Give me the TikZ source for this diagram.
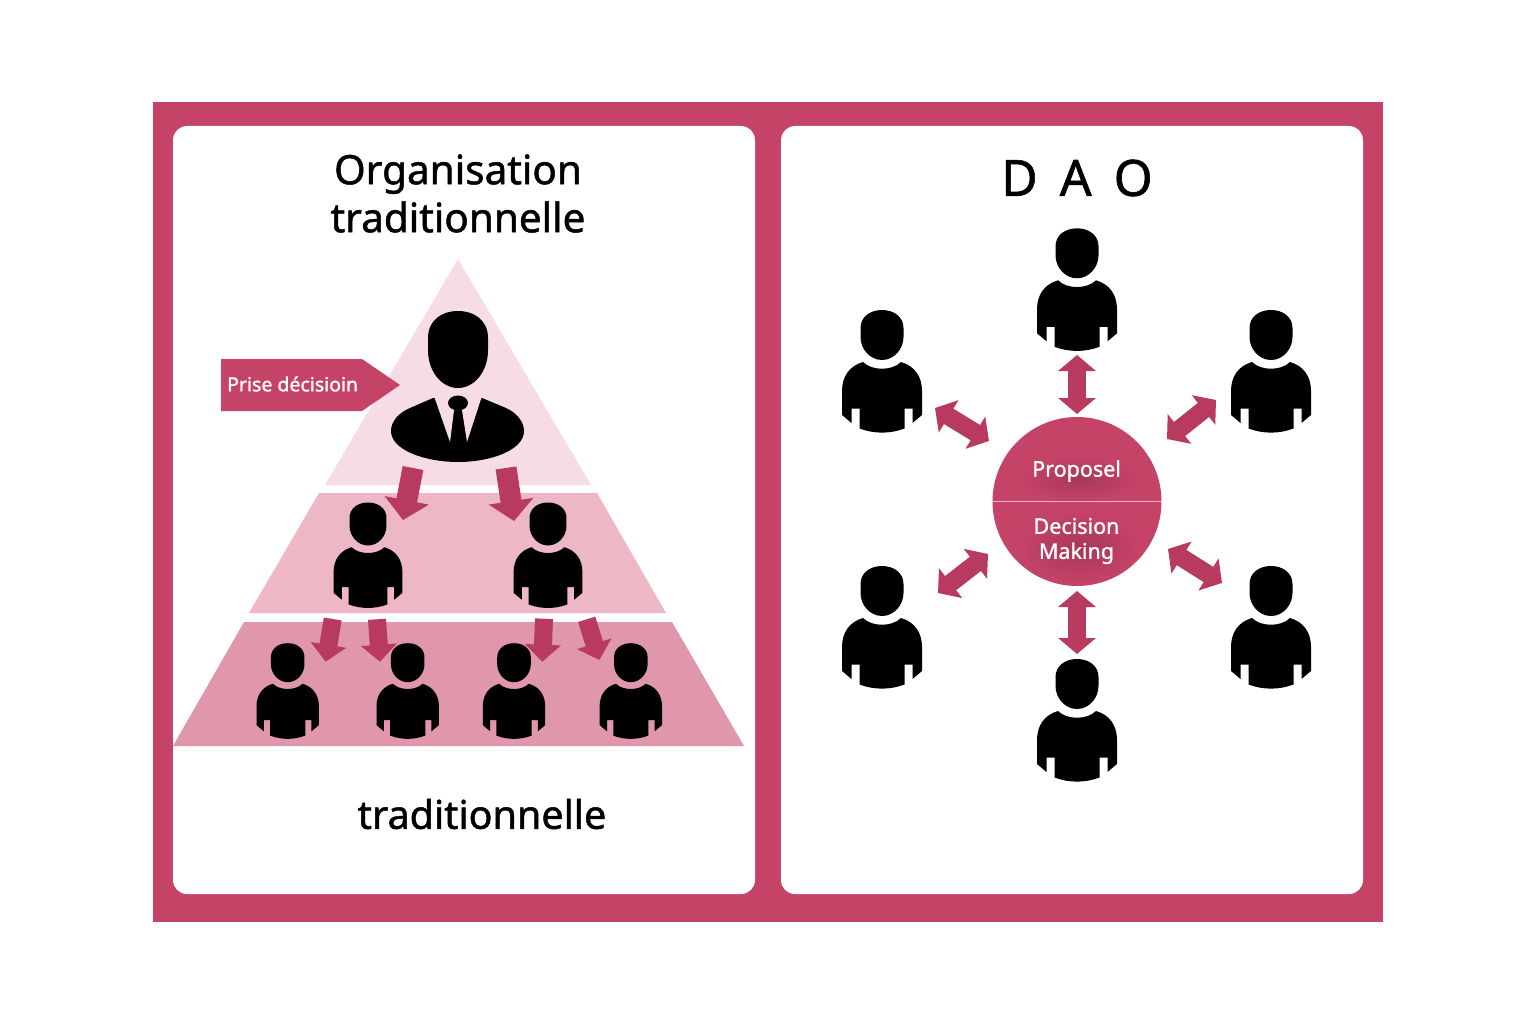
\documentclass[tikz,border=0pt]{standalone}
\usepackage{fontspec}
\setmainfont[FakeBold=1.2]{Noto Sans}
\usetikzlibrary{arrows.meta,fadings}
\definecolor{frame}{HTML}{C64368}
\definecolor{arrowc}{HTML}{B83A5E}
\definecolor{tierA}{HTML}{F6DDE5}
\definecolor{tierB}{HTML}{EDB7C6}
\definecolor{tierC}{HTML}{E096AB}
\definecolor{hubline}{HTML}{EBB4C4}
\tikzfading[name=softedge, inner color=transparent!72, outer color=transparent!100]
\tikzset{
  panel/.style={fill=white,rounded corners=14pt},
  down/.style={draw=arrowc,line width=21pt,-{Triangle[width=44pt,length=20pt]}},
  downs/.style={draw=arrowc,line width=18pt,-{Triangle[width=35pt,length=17pt]}},
  both/.style={draw=arrowc,line width=18pt,{Triangle[width=37pt,length=16pt]}-{Triangle[width=37pt,length=16pt]}},
  titletext/.style={font=\fontsize{40.5}{48}\selectfont,align=center,text=black},
  huetext/.style={font=\fontsize{21.5}{26}\selectfont,align=center,text=white},
  hubshade/.style={fill=black!55!frame,path fading=softedge},
  person/.pic={
    \fill[black] (0,-25) .. controls (-12,-25) and (-21.5,-18) .. (-21.5,-7)
      -- (-21.5,2) .. controls (-21.5,14) and (-12,25) .. (0,25)
      .. controls (12,25) and (21.5,14) .. (21.5,2) -- (21.5,-7)
      .. controls (21.5,-18) and (12,-25) .. (0,-25) -- cycle;
    \fill[black] (-19,27) .. controls (-10,36) and (10,36) .. (19,27)
      .. controls (33,31) and (40,42) .. (40,56) -- (40,80) -- (30.5,88) -- (30.5,73.5) -- (22.5,73.5) -- (22.5,93.5)
      .. controls (8,99) and (-8,99) .. (-22.5,93.5) -- (-22.5,73.5) -- (-30.5,73.5) -- (-30.5,88) -- (-40,80) -- (-40,56)
      .. controls (-40,42) and (-33,31) .. (-19,27) -- cycle;
  },
}
\begin{document}
\begin{tikzpicture}[x=1pt,y=-1pt]
\useasboundingbox (0,0) rectangle (1536,1024);
\fill[white] (0,0) rectangle (1536,1024);
\fill[frame] (153,102) rectangle (1383,922);
\fill[panel] (173,126) rectangle (755,894);
\fill[panel] (781,126) rectangle (1363,894);
% pyramid
\fill[tierA] (458,259) -- (591,485) -- (325,485) -- cycle;
\fill[tierB] (319,493) -- (597,493) -- (666,613) -- (249,613) -- cycle;
\fill[tierC] (244,622) -- (672,622) -- (744,746) -- (173,746) -- cycle;
\node[titletext] (title1) at (458,193.5) {Organisation\\traditionnelle};
\node[titletext,font=\fontsize{50}{60}\selectfont] (title2) at (1077,178) {D\hspace{22pt}A\hspace{22pt}O};
\node[titletext,font=\fontsize{39.5}{44}\selectfont] (foot) at (482,814) {traditionnelle};
% callout
\fill[frame] (221,359) -- (362,359) -- (400,385) -- (362,411) -- (221,411) -- cycle;
\node[huetext,font=\fontsize{19.5}{24}\selectfont,anchor=west,inner sep=0pt] (prise) at (227,384) {Prise décisioin};
% boss
\fill[black] (428,338) .. controls (428,320) and (442,311) .. (458,311)
  .. controls (474,311) and (488,320) .. (488,338) -- (488,350)
  .. controls (488,372) and (474,388) .. (458,388)
  .. controls (442,388) and (428,372) .. (428,350) -- cycle;
\fill[black] (433,398) -- (410,408) .. controls (398,413) and (391,422) .. (391,431)
  .. controls (391,450) and (425,462) .. (458,462)
  .. controls (491,462) and (524,450) .. (524,431)
  .. controls (524,422) and (517,413) .. (506,408) -- (482,398) -- cycle;
\fill[tierA] (434,396) -- (450,442) -- (454,410) -- (462,410) -- (467,442) -- (482,396) -- cycle;
\fill[black] (458,403) ellipse [x radius=10,y radius=7.5];
% hierarchy arrows
\foreach \n/\ax/\ay/\bx/\by in {a/413/468/403/520,b/506/468/514/521}{
  \coordinate (\n from) at (\ax,\ay);
  \coordinate (\n to) at (\bx,\by);
  \draw[down] (\n from) -- (\n to);
}
\foreach \n/\ax/\ay/\bx/\by in {c/332.7/619/325.7/661.7,d/377/619.3/380/661.7,e/544/618.7/542.3/661.7,f/586.7/619.3/599.3/660}{
  \coordinate (\n from) at (\ax,\ay);
  \coordinate (\n to) at (\bx,\by);
  \draw[downs] (\n from) -- (\n to);
}
% persons
\foreach \n/\x/\y in {ma/368/524,mb/548/524}
  \pic[scale=.86] (\n) at (\x,\y) {person};
\foreach \n/\x/\y in {la/287.7/662.7,lb/407.7/662.7,lc/514/662.7,ld/630.8/662.7}
  \pic[scale=.78] (\n) at (\x,\y) {person};
\foreach \n/\x/\y in {pa/1077/253.3,pb/882/335,pc/1271/335,pd/882/591,pe/1271/591,pf/1077/684}
  \pic (\n) at (\x,\y) {person};
% hub
\node[circle,fill=frame,minimum size=169pt,inner sep=0pt] (hub) at (1077,501.5) {};
\fill[hubshade] (1079,479) ellipse [x radius=58,y radius=22];
\fill[hubshade] (1079,548) ellipse [x radius=60,y radius=36];
\draw[hubline,line width=1.2pt] (hub.west) -- (hub.east);
\node[huetext] (prop) at (1076.5,471) {Proposel};
\node[huetext] (dec) at (1076.5,541) {Decision\\[-1pt]Making};
% DAO arrows
\foreach \n/\ax/\ay/\bx/\by in {u/1077/355/1077/414,v/935/408/989/441,w/1216/400/1167/439,x/988/554/938/593,y/1168/549/1222/583,z/1077/591/1077/654}{
  \coordinate (\n from) at (\ax,\ay);
  \coordinate (\n to) at (\bx,\by);
  \draw[both] (\n from) -- (\n to);
}
\end{tikzpicture}
\end{document}
